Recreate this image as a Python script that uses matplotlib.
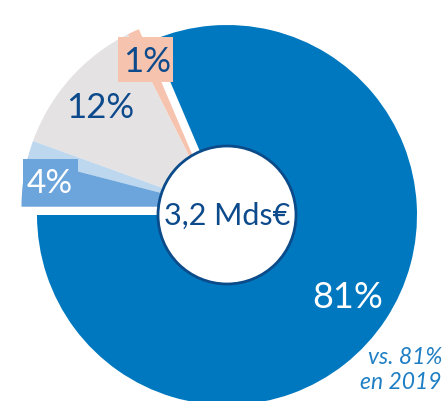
import numpy as np
import matplotlib
matplotlib.use("Agg")
import matplotlib.pyplot as plt
from matplotlib.patches import Circle, Rectangle

# Data
labels = ["81%", "1%", "12%", "", "4%"]
values = [81, 1, 12, 1.5, 4]
colors = ["#0078BF", "#F6C4AE", "#E4E2E3", "#BDD7EE", "#6CA4DC"]
center_label = "3,2 Mds€"
note = "vs. 81%\nen 2019"

W, H = 448, 402
fig = plt.figure(figsize=(W / 100, H / 100), dpi=100)
ax = fig.add_axes([0, 0, 1, 1])

cx, cy = 227, H - 216
wedges, _ = ax.pie(values, colors=colors, startangle=180, counterclock=True,
                   radius=190, center=(cx, cy),
                   wedgeprops=dict(linewidth=0))

# shift the small slices as a group away from the main slice
t1 = wedges[1].theta1
t2 = wedges[-1].theta2
mid = np.deg2rad((t1 + t2) / 2)
d = 15
gx, gy = cx + d * np.cos(mid), cy + d * np.sin(mid)
for w in wedges[1:]:
    w.set_center((gx, gy))
    w.set_radius(193)

ax.add_patch(Circle((cx, cy), 69, facecolor="white", edgecolor="#0B4B8A",
                    linewidth=2, zorder=5))

navy = "#0D4A8C"
font = "Lato"

# label boxes
ax.add_patch(Rectangle((118, H - 83), 55, 45, facecolor=colors[1],
                       edgecolor="none", zorder=4))
ax.add_patch(Rectangle((23, H - 205), 55, 45, facecolor=colors[4],
                       edgecolor="none", zorder=4))

ax.text(348, H - 298, labels[0], color="white", fontsize=26, family=font,
        ha="center", va="center", zorder=6)
ax.text(100, H - 108, labels[2], color=navy, fontsize=25, family=font,
        ha="center", va="center", zorder=6)
ax.text(147, H - 62, labels[1], color=navy, fontsize=25, family=font,
        ha="center", va="center", zorder=6)
ax.text(50, H - 184, labels[4], color="white", fontsize=24, family=font,
        ha="center", va="center", zorder=6)
ax.text(cx, cy, center_label, color=navy, fontsize=22, family=font,
        ha="center", va="center", zorder=6)
ax.text(442, H - 370, note, color="#1F7FC4", fontsize=16.5, family=font,
        style="italic", ha="right", va="center", linespacing=1.2, zorder=6)

ax.set_xlim(0, W)
ax.set_ylim(0, H)
ax.set_aspect("equal")
ax.axis("off")
fig.savefig("out.png", dpi=100)
